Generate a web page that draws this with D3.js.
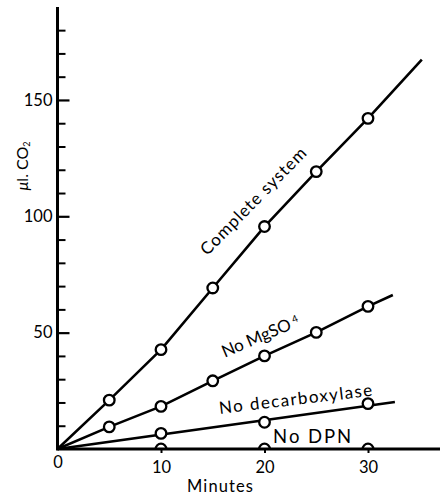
<!DOCTYPE html>
<html>
<head>
<meta charset="utf-8">
<script src="https://cdn.jsdelivr.net/npm/d3@7"></script>
<style>
html,body{margin:0;padding:0;background:#fff;}
svg{display:block;}
text{font-family:Lato,"Open Sans",sans-serif;fill:#000;}
</style>
</head>
<body>
<svg id="chart" width="440" height="497"></svg>
<script>
// ---- data ----
const completeMinutes = [5, 10, 15, 20, 25, 30];
const completeValues  = [21, 42.7, 69.2, 95.6, 119.2, 142.1];
const mgMinutes = [5, 10, 15, 20, 25, 30];
const mgValues  = [9.5, 18.3, 29.3, 40.0, 50.1, 61.3];
const decarbMinutes = [10, 20, 30];
const decarbValues  = [6.7, 11.5, 19.5];
const dpnMinutes = [10, 20, 30];
const dpnValues  = [0, 0, 0];
// where each drawn line ends (minutes, µl CO2); all lines start at the origin
const completeLineEnd = [35.2, 167.3];
const mgLineEnd       = [32.4, 66.2];
const decarbLineEnd   = [32.6, 20.2];
const xTickLabels = [0, 10, 20, 30];
const yTickLabels = [50, 100, 150];
const yMinorTicks = [10, 20, 30, 40, 60, 70, 80, 90, 110, 120, 130, 140, 160, 170, 180];

// ---- scales ----
const svg = d3.select("#chart");
const x0 = 57.5, y0 = 449;
const x = d3.scaleLinear().domain([0, 37]).range([x0, x0 + 37 * 10.35]);
const y = d3.scaleLinear().domain([0, 190]).range([y0, y0 - 190 * 2.327]);

const line = d3.line().x(d => x(d[0])).y(d => y(d[1]));

svg.append("defs").append("clipPath").attr("id", "plotclip")
  .append("rect").attr("x", 0).attr("y", 0).attr("width", 440).attr("height", y(0));

const plot = svg.append("g").attr("clip-path", "url(#plotclip)");

// hand-drawn lines follow their points
const completePath = [[0, 0]].concat(completeMinutes.map((m, i) => [m, completeValues[i]]), [completeLineEnd]);
const mgPath = [[0, 0]].concat(mgMinutes.map((m, i) => [m, mgValues[i]]), [mgLineEnd]);
const decarbPath = [[0, 0], decarbLineEnd];

[completePath, mgPath, decarbPath].forEach(l => {
  plot.append("path").attr("d", line(l))
    .attr("fill", "none").attr("stroke", "#000").attr("stroke-width", 2.6)
    .attr("stroke-linejoin", "round");
});

const series = [
  [completeMinutes, completeValues],
  [mgMinutes, mgValues],
  [decarbMinutes, decarbValues],
  [dpnMinutes, dpnValues]
];
series.forEach(([ms, vs]) => {
  plot.selectAll(null).data(ms.map((m, i) => [m, vs[i]])).enter()
    .append("circle")
    .attr("cx", d => x(d[0])).attr("cy", d => y(d[1])).attr("r", 5.3)
    .attr("fill", "#fff").attr("stroke", "#000").attr("stroke-width", 2.3);
});

// ---- axes ----
const yMinor = svg.append("g").attr("transform", `translate(${x0},0)`)
  .call(d3.axisLeft(y).tickValues(yMinorTicks).tickSize(-8).tickFormat(""));
yMinor.select(".domain").remove();
yMinor.selectAll("line").attr("stroke", "#000").attr("stroke-width", 2);

const yMajor = svg.append("g").attr("transform", `translate(${x0},0)`)
  .call(d3.axisLeft(y).tickValues(yTickLabels).tickSize(-12).tickPadding(5));
yMajor.select(".domain").remove();
yMajor.selectAll("line").attr("stroke", "#000").attr("stroke-width", 2.2);
yMajor.selectAll("text").attr("font-size", 16.5).attr("font-family", "Lato");

const xAx = svg.append("g").attr("transform", `translate(0,${y0})`)
  .call(d3.axisBottom(x).tickValues(xTickLabels).tickSize(4).tickPadding(8).tickFormat(d3.format("d")));
xAx.select(".domain").remove();
xAx.selectAll("line").attr("stroke", "#000").attr("stroke-width", 2);
xAx.selectAll(".tick").filter(d => d === 0).select("line").remove();
xAx.selectAll("text").attr("font-size", 16.5).attr("font-family", "Lato");
xAx.selectAll(".tick").filter(d => d === 0).select("text").attr("y", 7);

svg.append("line").attr("x1", x0).attr("x2", x0).attr("y1", y(0) + 1.5).attr("y2", 7)
  .attr("stroke", "#000").attr("stroke-width", 3);
svg.append("line").attr("x1", x0).attr("x2", 440).attr("y1", y(0)).attr("y2", y(0))
  .attr("stroke", "#000").attr("stroke-width", 3);

// ---- axis titles ----
svg.append("text").attr("x", 220).attr("y", 492).attr("text-anchor", "middle")
  .attr("font-size", 16.5).attr("textLength", 66).text("Minutes");

const yt = svg.append("text")
  .attr("transform", `translate(28,166) rotate(-90)`)
  .attr("text-anchor", "middle").attr("font-size", 16);
yt.append("tspan").attr("font-style", "italic").text("\u03bc");
yt.append("tspan").text("l. CO");
yt.append("tspan").attr("font-size", 9).attr("dy", 2).text("2");

// ---- curve labels ----
function label(txt, mx, vy, angle, size, len) {
  const t = svg.append("text")
    .attr("transform", `translate(${x(mx)},${y(vy)}) rotate(${angle})`)
    .attr("text-anchor", "middle").attr("dy", "0.35em")
    .attr("font-size", size);
  if (len) t.attr("textLength", len).attr("lengthAdjust", "spacing");
  t.text(txt);
  return t;
}
label("Complete system", 18.9, 106.5, -45.5, 17, 143);
label("No decarboxylase", 23.0, 21.5, -6.8, 17, 154);
label("No DPN", 24.6, 5.5, 0, 18.5, 78);
const mg = svg.append("text")
  .attr("transform", `translate(${x(19.6)},${y(48.5)}) rotate(-23)`)
  .attr("text-anchor", "middle").attr("dy", "0.35em").attr("font-size", 17);
mg.append("tspan").text("No MgSO");
mg.append("tspan").attr("font-size", 10).attr("dx", 3).attr("dy", -5).text("4");
</script>
</body>
</html>
